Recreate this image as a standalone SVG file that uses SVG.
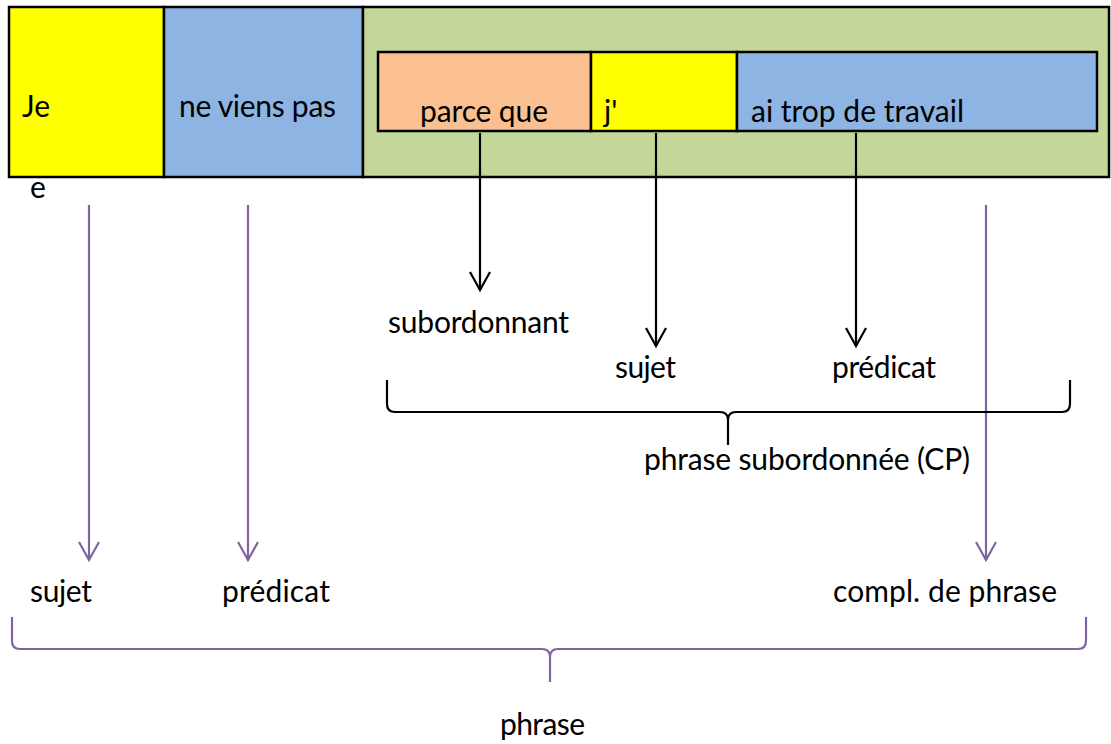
<svg xmlns="http://www.w3.org/2000/svg" width="1111" height="744" viewBox="0 0 1111 744">
<style>
text{font-family:Lato,"Liberation Sans",Arial,sans-serif;font-size:30px;fill:#000}
.box{stroke:#000;stroke-width:2.5}
.blk{stroke:#000;stroke-width:2.2;fill:none}
.pur{stroke:#8064A2;stroke-width:2.2;fill:none}
</style>
<defs>
<marker id="ab" markerUnits="userSpaceOnUse" markerWidth="22" markerHeight="24" refX="19" refY="11" orient="auto" viewBox="0 0 22 22">
<path d="M1,1 L19,11 L1,21" fill="none" stroke="#000" stroke-width="2.2"/>
</marker>
<marker id="ap" markerUnits="userSpaceOnUse" markerWidth="22" markerHeight="24" refX="19" refY="11" orient="auto" viewBox="0 0 22 22">
<path d="M1,1 L19,11 L1,21" fill="none" stroke="#8064A2" stroke-width="2.2"/>
</marker>
</defs>
<rect width="1111" height="744" fill="#fff"/>
<g id="je"><rect class="box" x="9" y="7" width="155" height="170" fill="#FFFF00"/><text x="22" y="117">Je</text></g>
<g id="ne-viens-pas"><rect class="box" x="164" y="7" width="199" height="170" fill="#8EB4E3"/><text x="179" y="117" textLength="157">ne viens pas</text></g>
<g id="subordonnee"><rect class="box" x="363" y="7" width="746" height="170" fill="#C4D79B"/></g>
<g id="parce-que"><rect class="box" x="378" y="52" width="213" height="79" fill="#FAC090"/><text x="420" y="122" textLength="128">parce que</text></g>
<g id="j"><rect class="box" x="591" y="52" width="146" height="79" fill="#FFFF00"/><text x="604" y="122">j'</text></g>
<g id="ai-trop"><rect class="box" x="737" y="52" width="360" height="79" fill="#8EB4E3"/><text x="751" y="122" textLength="213">ai trop de travail</text></g>
<g id="e-label"><text x="30" y="198">e</text></g>
<g id="connectors">
<line class="blk" x1="480" y1="133" x2="480" y2="290" marker-end="url(#ab)"/>
<line class="blk" x1="656" y1="133" x2="656" y2="346" marker-end="url(#ab)"/>
<line class="blk" x1="856" y1="133" x2="856" y2="346" marker-end="url(#ab)"/>
<line class="pur" x1="89" y1="205" x2="89" y2="560" marker-end="url(#ap)"/>
<line class="pur" x1="248" y1="205" x2="248" y2="560" marker-end="url(#ap)"/>
<line class="pur" x1="986" y1="205" x2="986" y2="560" marker-end="url(#ap)"/>
<path class="blk" d="M387,380 V404 Q387,412 395,412 H720 Q728,412 728,420 Q728,412 736,412 H1062 Q1070,412 1070,404 V380 M728,420 V445"/>
<path class="pur" d="M12,617 V641 Q12,649 20,649 H542 Q550,649 550,657 Q550,649 558,649 H1078 Q1086,649 1086,641 V617 M550,657 V682"/>
</g>
<g id="labels-sub">
<text x="388" y="333" textLength="181">subordonnant</text>
<text x="615" y="378" textLength="61">sujet</text>
<text x="832" y="378" textLength="104">prédicat</text>
<text x="644" y="470" textLength="326">phrase subordonnée (CP)</text>
</g>
<g id="labels-main">
<text x="30" y="602" textLength="62">sujet</text>
<text x="222" y="602" textLength="108">prédicat</text>
<text x="833" y="602" textLength="224">compl. de phrase</text>
<text x="500" y="735" textLength="85">phrase</text>
</g>
</svg>
